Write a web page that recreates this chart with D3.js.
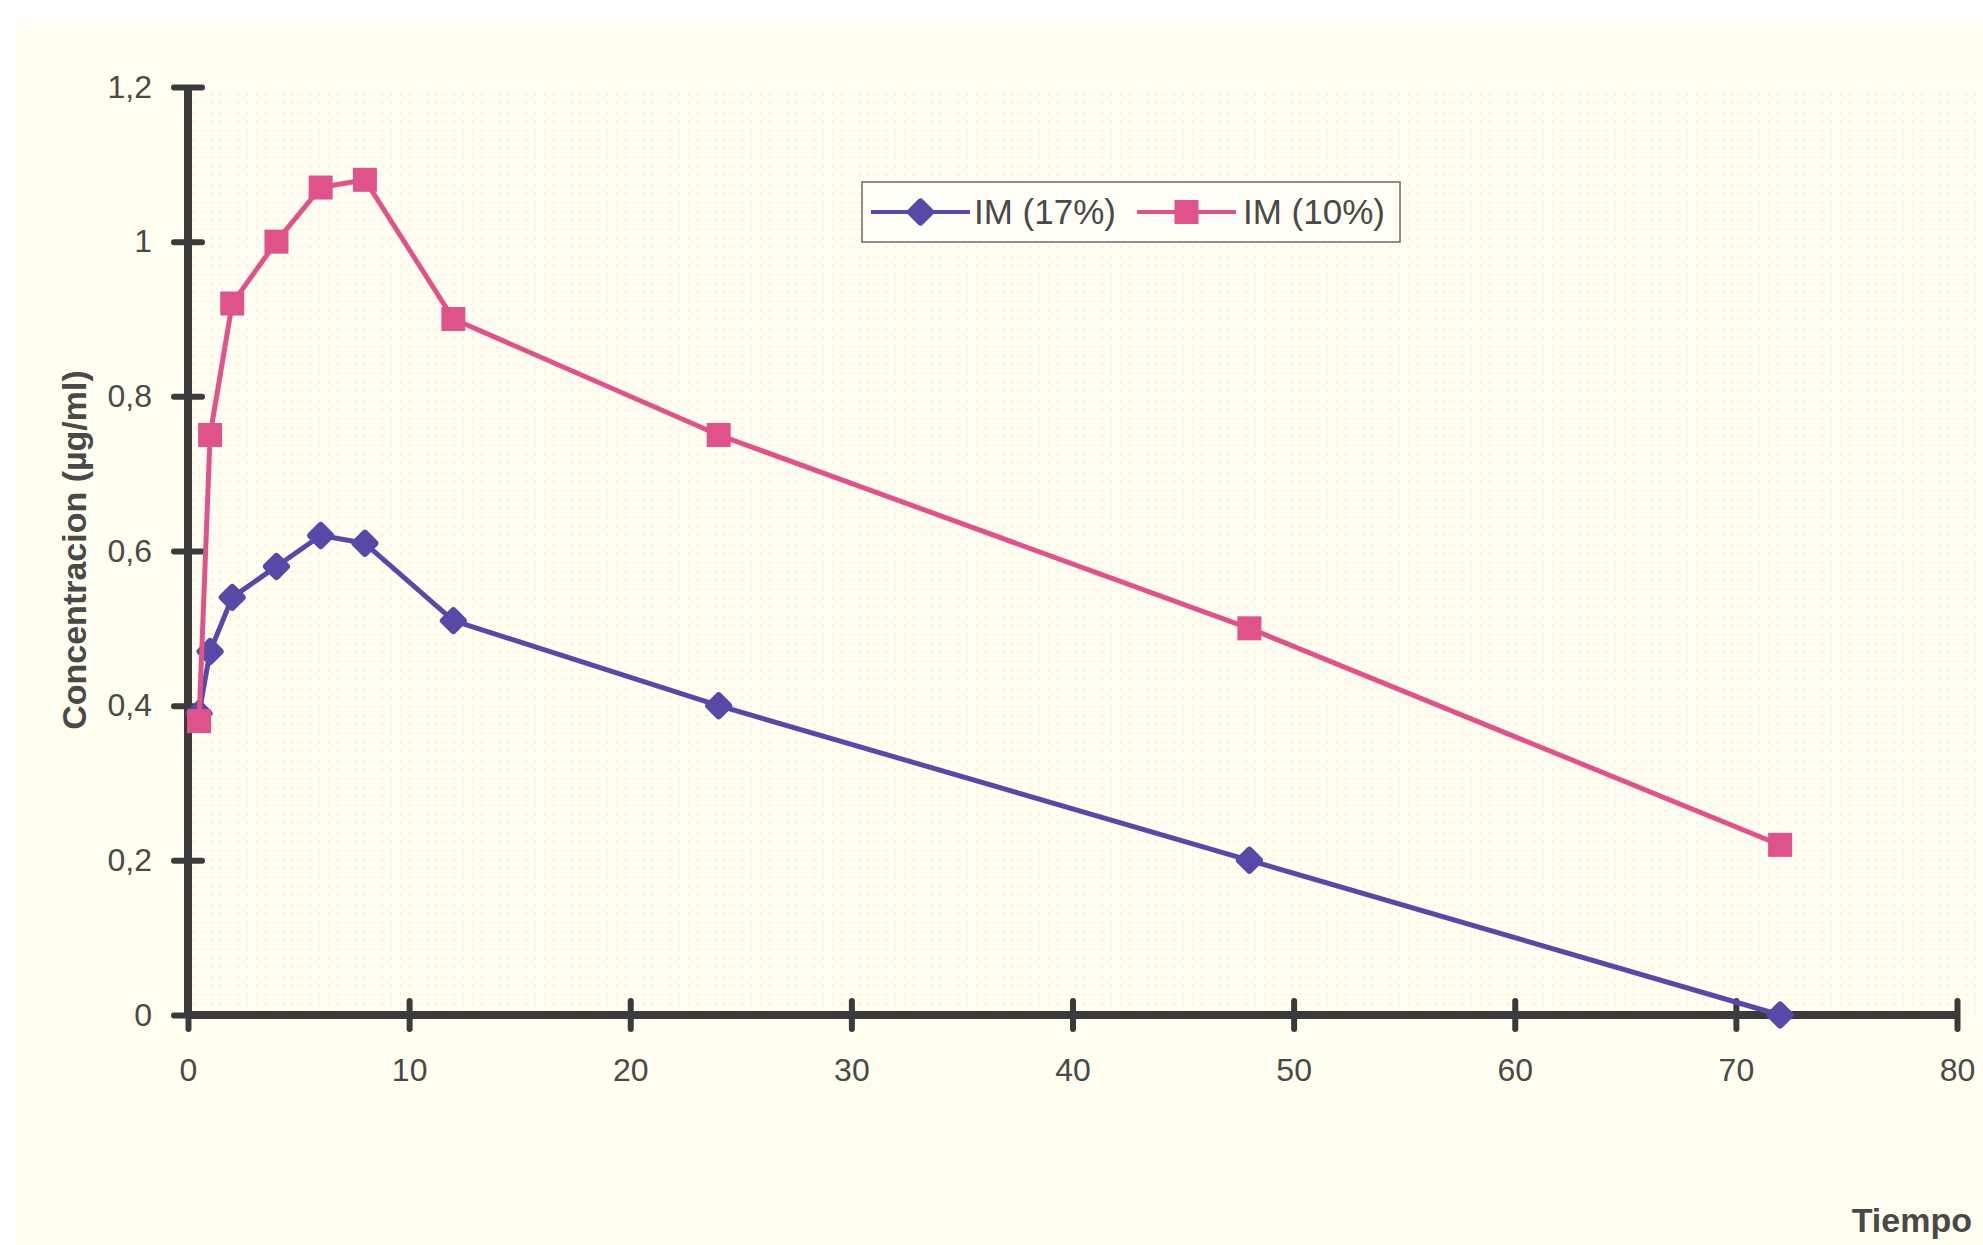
<!DOCTYPE html>
<html>
<head>
<meta charset="utf-8">
<script src="https://cdn.jsdelivr.net/npm/d3@7"></script>
<style>
  html, body { margin: 0; padding: 0; background: #ffffff; }
  svg { display: block; }
  text { font-family: "Liberation Sans", Arial, sans-serif; }
</style>
</head>
<body>
<svg id="chart" width="1983" height="1245"></svg>
<script>
// Sampling times (hours)
const tiempo17 = [0.5, 1, 2, 4, 6, 8, 12, 24, 48, 72];
const tiempo10 = [0.5, 1, 2, 4, 6, 8, 12, 24, 48, 72];
// Concentrations (µg/ml)
const conc17 = [0.39, 0.47, 0.54, 0.58, 0.62, 0.61, 0.51, 0.40, 0.20, 0.0];
const conc10 = [0.38, 0.75, 0.92, 1.00, 1.07, 1.08, 0.90, 0.75, 0.50, 0.22];
const seriesNames = ["IM (17%)", "IM (10%)"];
const xTicks = [0, 10, 20, 30, 40, 50, 60, 70, 80];
const yTicks = [0, 0.2, 0.4, 0.6, 0.8, 1, 1.2];
const yTickLabels = ["0", "0,2", "0,4", "0,6", "0,8", "1", "1,2"];

const svg = d3.select("#chart");
const W = 1983, H = 1245;
const axisColor = "#3c3b3b";
const textColor = "#4a4948";
const purple = "#5849a8";
const pink = "#e0538a";

// paper background
svg.append("rect").attr("width", W).attr("height", H).attr("fill", "#ffffff");
svg.append("rect").attr("x", 15).attr("y", 24).attr("width", W - 15).attr("height", H - 24)
  .attr("fill", "#fffef1");

// faint dotted screen behind the plot
const defs = svg.append("defs");
const pat = defs.append("pattern").attr("id", "dots")
  .attr("width", 9).attr("height", 9).attr("patternUnits", "userSpaceOnUse");
pat.append("circle").attr("cx", 4.5).attr("cy", 4.5).attr("r", 0.9)
  .attr("fill", "#dcdbd0");

const x = d3.scaleLinear().domain([0, 80]).range([188, 1957]);
const y = d3.scaleLinear().domain([0, 1.2]).range([1015, 87]);

svg.append("rect")
  .attr("x", x(0) + 4).attr("y", y(1.2))
  .attr("width", W - x(0) - 4).attr("height", y(0) - y(1.2))
  .attr("fill", "url(#dots)").attr("opacity", 0.55);

// Y axis
const yAxis = svg.append("g")
  .attr("transform", `translate(${x(0)},0)`)
  .call(d3.axisLeft(y).tickValues(yTicks)
    .tickFormat((d, i) => yTickLabels[i]).tickSizeOuter(0).tickPadding(30));
yAxis.select(".domain").attr("stroke", axisColor).attr("stroke-width", 8)
  .attr("d", `M0,${y(0)}V${y(1.2)}`);
yAxis.selectAll(".tick line").attr("x1", -14).attr("x2", 14)
  .attr("stroke", axisColor).attr("stroke-width", 6).attr("stroke-linecap", "round");
yAxis.selectAll(".tick text").attr("font-size", 32).attr("fill", textColor)
  .attr("font-family", "Liberation Sans, Arial, sans-serif");

// X axis
const xAxis = svg.append("g")
  .attr("transform", `translate(0,${y(0)})`)
  .call(d3.axisBottom(x).tickValues(xTicks).tickFormat(d3.format("d"))
    .tickSizeOuter(0).tickPadding(37));
xAxis.select(".domain").attr("stroke", axisColor).attr("stroke-width", 8)
  .attr("d", `M${x(0)},0H${x(80)}`);
xAxis.selectAll(".tick line").attr("y1", -14).attr("y2", 14)
  .attr("stroke", axisColor).attr("stroke-width", 6).attr("stroke-linecap", "round");
xAxis.selectAll(".tick text").attr("font-size", 32).attr("fill", textColor)
  .attr("font-family", "Liberation Sans, Arial, sans-serif");

// Axis titles
svg.append("text")
  .attr("transform", `translate(86,550) rotate(-90)`)
  .attr("text-anchor", "middle")
  .attr("font-size", 34).attr("font-weight", "bold").attr("fill", textColor)
  .text("Concentracion (µg/ml)");
svg.append("text")
  .attr("x", 1972).attr("y", 1232)
  .attr("text-anchor", "end")
  .attr("font-size", 34).attr("font-weight", "bold").attr("fill", textColor)
  .text("Tiempo");

// markers
const diamondPath = "M0,-10L10,0L0,10L-10,0Z";
function drawMarker(g, kind, color) {
  if (kind === "diamond") {
    g.append("path").attr("d", diamondPath)
      .attr("fill", color).attr("stroke", color)
      .attr("stroke-width", 7).attr("stroke-linejoin", "round");
  } else {
    g.append("rect").attr("x", -12).attr("y", -12).attr("width", 24).attr("height", 24)
      .attr("fill", color);
  }
}

const series = [
  { name: seriesNames[0], xs: tiempo17, ys: conc17, color: purple, marker: "diamond" },
  { name: seriesNames[1], xs: tiempo10, ys: conc10, color: pink, marker: "square" }
];

const line = d3.line().x(d => x(d[0])).y(d => y(d[1]));

series.forEach(s => {
  const pts = s.xs.map((t, i) => [t, s.ys[i]]);
  const g = svg.append("g");
  g.append("path").datum(pts).attr("d", line)
    .attr("fill", "none").attr("stroke", s.color).attr("stroke-width", 5)
    .attr("stroke-linejoin", "round");
  pts.forEach(p => {
    const m = g.append("g").attr("transform", `translate(${x(p[0])},${y(p[1])})`);
    drawMarker(m, s.marker, s.color);
  });
});

// Legend
const leg = svg.append("g");
leg.append("rect").attr("x", 862).attr("y", 182).attr("width", 538).attr("height", 60)
  .attr("fill", "#fffef6").attr("stroke", "#6a6a6a").attr("stroke-width", 1.5);
const legItems = [
  { s: series[0], x0: 871, x1: 970, tx: 974 },
  { s: series[1], x0: 1137, x1: 1236, tx: 1243 }
];
legItems.forEach(it => {
  const cy = 212;
  leg.append("line").attr("x1", it.x0).attr("x2", it.x1).attr("y1", cy).attr("y2", cy)
    .attr("stroke", it.s.color).attr("stroke-width", 4);
  const m = leg.append("g").attr("transform", `translate(${(it.x0 + it.x1) / 2},${cy})`);
  drawMarker(m, it.s.marker, it.s.color);
  leg.append("text").attr("x", it.tx).attr("y", cy + 12)
    .attr("font-size", 35).attr("fill", textColor).text(it.s.name);
});
</script>
</body>
</html>
